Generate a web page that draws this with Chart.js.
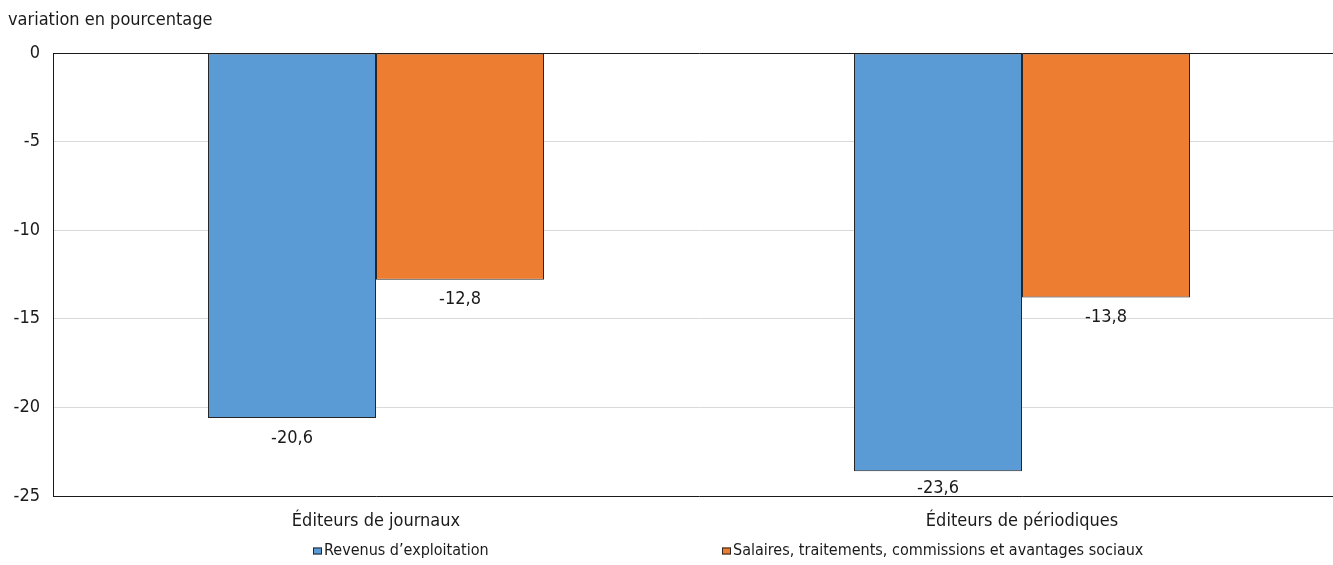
<!DOCTYPE html>
<html lang="fr">
<head>
<meta charset="utf-8">
<script src="https://cdn.jsdelivr.net/npm/chart.js@4/dist/chart.umd.min.js"></script>
<style>
  html, body { margin: 0; padding: 0; background: #fff; overflow: hidden; }
  #wrap { position: relative; width: 1422px; height: 565px; }
</style>
</head>
<body>
<div id="wrap"><canvas id="c"></canvas></div>
<script>
const categories = ['Éditeurs de journaux', 'Éditeurs de périodiques'];
const seriesNames = ["Revenus d’exploitation", 'Salaires, traitements, commissions et avantages sociaux'];
const revenus = [-20.6, -23.6];
const salaires = [-12.8, -13.8];
const yTicks = [0, -5, -10, -15, -20, -25];
const yTitle = 'variation en pourcentage';

const FONT = "'Liberation Sans Narrow', 'DejaVu Sans Condensed', 'Arial Narrow', sans-serif";
const FS = 18;
const FS_LEG = 16;
const TEXT = '#1a1a1a';
const colors = ['#5B9BD5', '#ED7D31'];

const fmt = v => v.toFixed(1).replace('.', ',');

const dataLabels = {
  id: 'dataLabels',
  afterDatasetsDraw(chart) {
    const ctx = chart.ctx;
    const bottom = chart.chartArea.bottom;
    ctx.save();
    ctx.font = FS + 'px ' + FONT;
    ctx.fillStyle = TEXT;
    ctx.textAlign = 'center';
    ctx.textBaseline = 'top';
    chart.data.datasets.forEach((ds, i) => {
      chart.getDatasetMeta(i).data.forEach((bar, j) => {
        const y = Math.min(bar.y + 11, bottom - 17);
        ctx.fillText(fmt(ds.data[j]), bar.x, y);
      });
    });
    ctx.restore();
  }
};

const bottomLegend = {
  id: 'bottomLegend',
  afterDraw(chart) {
    const ctx = chart.ctx;
    ctx.save();
    ctx.font = FS_LEG + 'px ' + FONT;
    ctx.textBaseline = 'middle';
    ctx.textAlign = 'left';
    const box = 9, boxH = 7, gapText = 2, colStep = 409;
    let x = chart.width / 2 - 398;
    const y = 551;
    chart.data.datasets.forEach(ds => {
      ctx.fillStyle = ds.backgroundColor;
      ctx.fillRect(x, y - boxH / 2, box, boxH);
      ctx.strokeStyle = '#262626';
      ctx.lineWidth = 1;
      ctx.strokeRect(x + 0.5, y - boxH / 2 + 0.5, box - 1, boxH - 1);
      ctx.fillStyle = TEXT;
      ctx.fillText(ds.label, x + box + gapText, y);
      x += colStep;
    });
    ctx.restore();
  }
};

new Chart(document.getElementById('c'), {
  type: 'bar',
  data: {
    labels: categories,
    datasets: [
      { label: seriesNames[0], data: revenus, backgroundColor: colors[0], borderColor: '#262626', borderWidth: 1, borderSkipped: false },
      { label: seriesNames[1], data: salaires, backgroundColor: colors[1], borderColor: '#262626', borderWidth: 1, borderSkipped: false }
    ]
  },
  options: {
    responsive: true,
    maintainAspectRatio: false,
    animation: false,
    categoryPercentage: 336 / 646,
    barPercentage: 1.0,
    layout: { padding: { left: 8, right: 77, top: 0, bottom: 24 } },
    plugins: {
      legend: { display: false },
      tooltip: { enabled: false },
      title: {
        display: true, text: yTitle, align: 'start', color: TEXT,
        font: { family: FONT, size: FS, weight: 'normal' },
        padding: { top: 10, bottom: 21.4 }
      }
    },
    scales: {
      x: {
        grid: { display: false },
        border: { display: true, color: '#1a1a1a', width: 1 },
        ticks: { color: TEXT, font: { family: FONT, size: FS }, padding: 7 },
        afterFit(s) { s.height = 45; }
      },
      y: {
        min: -25, max: 0,
        afterBuildTicks(s) { s.ticks = yTicks.map(v => ({ value: v })); },
        grid: {
          drawTicks: false,
          color: c => (c.tick && c.tick.value === 0) ? '#1a1a1a' : '#d9d9d9',
          lineWidth: 1
        },
        border: { display: true, color: '#1a1a1a', width: 1 },
        ticks: { color: TEXT, font: { family: FONT, size: FS }, padding: 13, callback: v => String(v) },
        afterFit(s) { s.width = 45; }
      }
    }
  },
  plugins: [dataLabels, bottomLegend]
});
</script>
</body>
</html>
